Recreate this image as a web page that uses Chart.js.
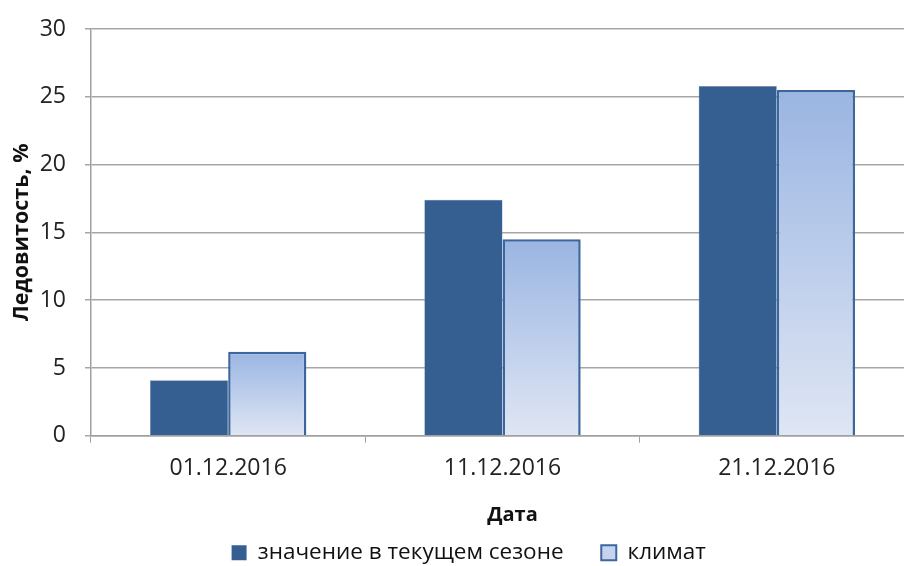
<!DOCTYPE html>
<html><head><meta charset="utf-8">
<script src="https://cdn.jsdelivr.net/npm/chart.js@4/dist/chart.umd.min.js"></script>
<style>
html,body{margin:0;padding:0;background:#fff;overflow:hidden;width:904px;height:566px;}
canvas{display:block;}
</style></head>
<body>
<canvas id="c" width="916" height="574"></canvas>
<script>
const categories = ['01.12.2016', '11.12.2016', '21.12.2016'];
const currentSeason = [4.1, 17.4, 25.8];
const climate = [6.2, 14.5, 25.5];
const seriesNames = ['значение в текущем сезоне', 'климат'];
const yTicks = [0, 5, 10, 15, 20, 25, 30];

const FONT = '"Open Sans", "DejaVu Sans", sans-serif';

function climateFill(ctx) {
  const chart = ctx.chart;
  const y = chart.scales && chart.scales.y;
  if (!y || ctx.type !== 'data') return '#b4c7e8';
  const top = y.getPixelForValue(ctx.raw);
  const bottom = y.getPixelForValue(0);
  if (!isFinite(top) || !isFinite(bottom) || top === bottom) return '#b4c7e8';
  const g = chart.ctx.createLinearGradient(0, top, 0, bottom);
  g.addColorStop(0, '#9ab5e2');
  g.addColorStop(1, '#dfe6f4');
  return g;
}

new Chart(document.getElementById('c'), {
  type: 'bar',
  data: {
    labels: categories,
    datasets: [
      { label: seriesNames[0], data: currentSeason, backgroundColor: '#365f91', borderColor: '#6f8fba', borderWidth: 0.5, barPercentage: 1, categoryPercentage: 0.57 },
      { label: seriesNames[1], data: climate, backgroundColor: climateFill, borderColor: '#3c669e', borderWidth: 2.5, barPercentage: 1, categoryPercentage: 0.57 }
    ]
  },
  options: {
    responsive: false,
    animation: false,
    layout: { padding: { left: 0, right: 2, top: 29, bottom: 0 } },
    plugins: {
      legend: {
        position: 'bottom',
        fullSize: false,
        labels: {
          font: { family: FONT, size: 22.5 }, color: '#111', boxWidth: 15, boxHeight: 15, padding: 4,
          generateLabels: function(chart) {
            return [
              { text: seriesNames[0] + '\u2003\u2002', fillStyle: '#365f91', strokeStyle: '#365f91', lineWidth: 0, datasetIndex: 0, hidden: false, fontColor: '#111' },
              { text: seriesNames[1] + '\u2003\u2003\u2003', fillStyle: '#c5d3ee', strokeStyle: '#3c669e', lineWidth: 2, datasetIndex: 1, hidden: false, fontColor: '#111' }
            ];
          }
        }
      },
      tooltip: { enabled: false }
    },
    scales: {
      x: {
        afterFit: function(scale) { scale.height = 101.75; scale.paddingLeft = 0; scale.paddingRight = 0; },
        grid: { display: true, drawOnChartArea: false, drawTicks: true, tickLength: 7, color: '#a0a0a0', offset: true },
        border: { display: true, color: '#a0a0a0', width: 1.5 },
        ticks: { font: { family: FONT, size: 23 }, color: '#222', padding: 12 },
        title: { display: true, text: '\u2003Дата', font: { family: FONT, size: 20, weight: 'bold' }, color: '#111', padding: { top: 0, bottom: 10 } }
      },
      y: {
        min: 0, max: 30,
        afterBuildTicks: function(scale) { scale.ticks = yTicks.map(v => ({ value: v })); },
        afterFit: function(scale) { scale.width = 91; scale.paddingTop = 0; scale.paddingBottom = 0; },
        grid: { color: '#a6a6a6', lineWidth: 1.5, tickLength: 6, drawTicks: true },
        border: { display: true, color: '#a0a0a0', width: 1.5 },
        ticks: { font: { family: FONT, size: 23 }, color: '#222', padding: 19 },
        title: { display: true, text: 'Ледовитость, %', font: { family: FONT, size: 21.5, weight: 'bold' }, color: '#111', padding: { top: 9, bottom: 4 } }
      }
    }
  }
});
</script>
</body></html>
